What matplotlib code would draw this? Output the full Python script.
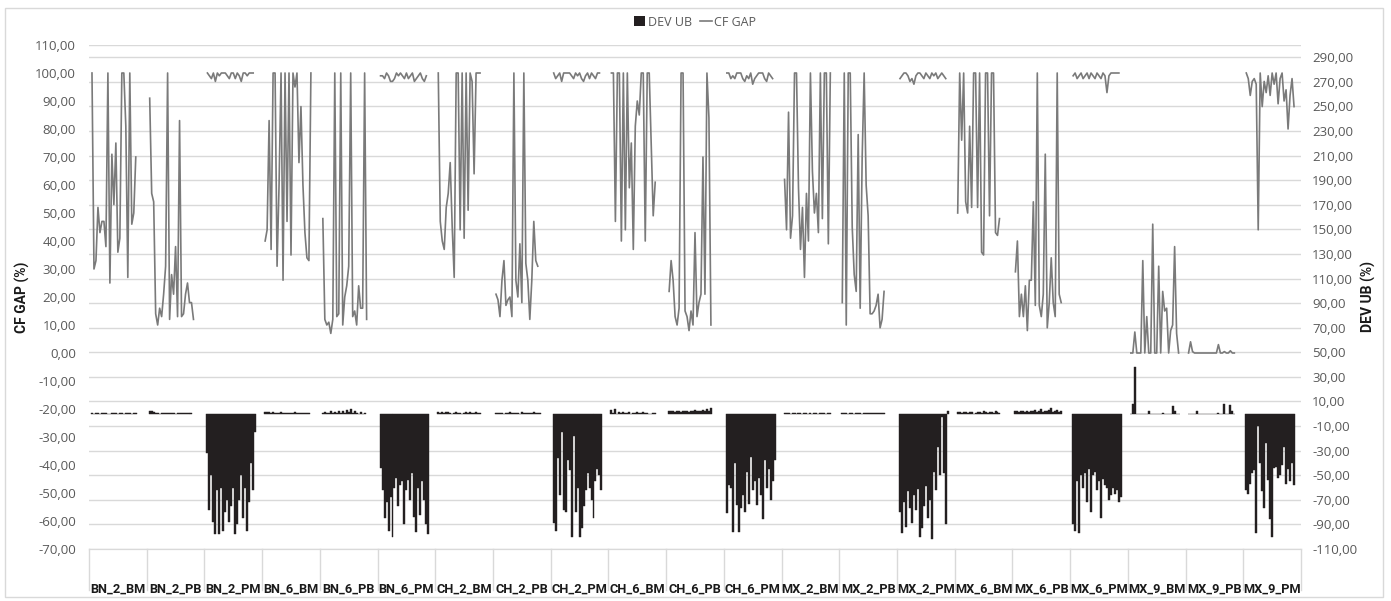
import numpy as np
import matplotlib.pyplot as plt
from matplotlib.ticker import FuncFormatter
from matplotlib.patches import Patch, Rectangle
from matplotlib.lines import Line2D

plt.rcParams['font.family'] = ['Open Sans', 'DejaVu Sans']
BOLD_FONT = ['Roboto', 'DejaVu Sans']

categories = ["BN_2_BM", "BN_2_PB", "BN_2_PM", "BN_6_BM", "BN_6_PB", "BN_6_PM",
              "CH_2_BM", "CH_2_PB", "CH_2_PM", "CH_6_BM", "CH_6_PB", "CH_6_PM",
              "MX_2_BM", "MX_2_PB", "MX_2_PM", "MX_6_BM", "MX_6_PB", "MX_6_PM",
              "MX_9_BM", "MX_9_PB", "MX_9_PM"]

# CF GAP (%) - left axis, one list per category (None = no value)
cf_bn_2_bm = [100, 30, 33, 52, 43, 47, 47, 38, 100, 25, 71, 53, 75, 36, 41, 100, 100, 81, 27, 100, 46, 50, 70]
cf_bn_2_pb = [91, 57, 54, 14, 10, 16, 13, 21, 31, 100, 12, 28, 21, 38, 13, 83, 13, 14, 21, 25, 18, 18, 12]
cf_bn_2_pm = [100, 99, 98, 100, 97, 100, 99, 100, 100, 100, 99, 98, 100, 100, 98, 100, 99, 97, 100, 100, 99, 100, 100, 100]
cf_bn_6_bm = [40, 44, 83, 37, 100, 100, 31, 60, 100, 26, 100, 47, 100, 35, 100, 95, 100, 68, 88, 60, 43, 34, 33, 100]
cf_bn_6_pb = [48, 12, 10, 11, 7, 12, 100, 13, 14, 100, 10, 20, 24, 31, 100, 13, 15, 10, 24, 16, 16, 100, 12]
cf_bn_6_pm = [99, 99, 98, 100, 99, 97, 97, 98, 100, 99, 100, 99, 98, 100, 98, 99, 100, 97, 98, 99, 100, 98, 97, 99]
cf_ch_2_bm = [100, 47, 40, 37, 52, 57, 68, 45, 27, 100, 100, 44, 100, 41, 100, 51, 100, 97, 64, 100, 100, 100]
cf_ch_2_pb = [21, 19, 13, 26, 33, 17, 19, 20, 13, 100, 26, 20, 39, 18, 100, 32, 26, 12, 26, 47, 33, 31]
cf_ch_2_pm = [100, 98, 99, 100, 97, 100, 100, 100, 100, 99, 98, 100, 99, 100, 98, 97, 99, 100, 98, 100, 99, 98, 100, 100]
cf_ch_6_bm = [100, 100, 47, 100, 100, 40, 100, 44, 100, 59, 75, 37, 81, 90, 85, 100, 100, 40, 100, 100, 75, 49, 61]
cf_ch_6_pb = [22, 33, 26, 13, 10, 16, 100, 100, 15, 13, 8, 15, 10, 43, 13, 18, 21, 70, 21, 100, 84, 10]
cf_ch_6_pm = [100, 100, 98, 99, 98, 100, 100, 100, 98, 97, 99, 98, 100, 96, 98, 99, 100, 100, 100, 98, 97, 100, 99, 98]
cf_mx_2_bm = [62, 44, 86, 41, 49, 100, 100, 59, 37, 52, 27, 57, 40, 100, 65, 50, 57, 43, 100, 48, 100, 100, 39, 100]
cf_mx_2_pb = [18, 100, 10, 100, 100, 45, 28, 22, 78, 16, 70, 100, 60, 49, 14, 14, 15, 17, 21, 9, 12, 22]
cf_mx_2_pm = [98, 99, 100, 100, 99, 97, 98, 96, 99, 100, 100, 99, 98, 100, 99, 98, 100, 99, 100, 98, 99, 100, 99, 98]
cf_mx_6_bm = [50, 100, 76, 100, 54, 50, 81, 52, 100, 100, 52, 100, 36, 35, 100, 100, 49, 100, 100, 43, 42, 48]
cf_mx_6_pb = [29, 40, 13, 21, 13, 24, 8, 26, 26, 54, 17, 100, 17, 13, 21, 71, 9, 18, 34, 18, 13, 100, 21, 18]
cf_mx_6_pm = [99, 100, 98, 99, 100, 98, 99, 100, 98, 100, 99, 98, 100, 99, 98, 100, 99, 93, 99, 100, 100, 100, 100, 100]
cf_mx_9_bm = [0, 0, 7.5, 0, 0, 0, 33, 0, 13, 0, 0, 46, 0, 0, 31, 0, 22, 15, 16, 0, 8, 10, 38, 7, 0]
cf_mx_9_pb = [0, 4, 0.5, 0, 0, 0, 0, 0, 0, 0, 0, 0, 0, 0, 0, 3, 0, 0, 0.5, 0, 0, 0.8, 0, 0]
cf_mx_9_pm = [100, 98, 92, 97, 98, 96, 44, 100, 88, 97, 93, 99, 92, 100, 96, 100, 89, 98, 100, 90, 94, 80, 92, 98, 88]

# DEV UB (%) - right axis, one list per category
dev_bn_2_bm = [1, 0, 1, 1, 0, 1, 1, 1, 0, 0, 1, 1, 1, 0, 1, 1, 0, 1, 1, 1, 0, 1, 1]
dev_bn_2_pb = [2, 2, 1.5, 1, 1, 0, 1, 1, 1, 1, 1, 1, 1, 0, 1, 1, 1, 1, 1, 1, 1, 1]
dev_bn_2_pm = [-32, -78, -50, -88, -98, -62, -98, -60, -95, -80, -70, -88, -75, -60, -98, -90, -70, -50, -85, -60, -95, -72, -40, -62, -15]
dev_bn_6_bm = [1.5, 1.5, 1.5, 1, 1.5, 1, 1, 1, 1.5, 1, 1, 1, 1, 1, 1, 1.5, 1, 1, 1, 0.5, 1, 1, 0.5]
dev_bn_6_pb = [1, 1.5, 1, 1, 2, 1, 1.5, 1, 2.5, 1, 2, 1, 3, 1.5, 4, 1, 2, 1, 0, 1.5, 0, 1]
dev_bn_6_pm = [-44, -62, -85, -72, -95, -68, -100, -60, -52, -75, -58, -55, -90, -62, -54, -70, -48, -84, -96, -60, -82, -55, -70, -90, -98]
dev_ch_2_bm = [1.5, 1, 1.5, 1, 1.5, 1.5, 1, 0, 1, 1.5, 1, 1, 0, 1, 1.5, 1, 1.5, 1, 1, 1.5, 1, 1]
dev_ch_2_pb = [1, 1, 1, 1, 0, 1, 1, 1.5, 1, 1, 1, 1, 0, 1.5, 1, 1, 1, 1, 1, 1.5, 1, 1, 1]
dev_ch_2_pm = [-89, -95, -36, -66, -15, -78, -80, -38, -46, -100, -18, -80, -60, -100, -93, -75, -62, -48, -60, -70, -85, -55, -45, -50, -62]
dev_ch_6_bm = [3, 1, 4, 0, 1.5, 1, 1.5, 1, 1, 1.5, 0, 1, 1, 1.5, 1, 1, 1.5, 1, 1, 0, 0, 1, 1]
dev_ch_6_pb = [2, 2, 2, 1.5, 2, 2, 1.5, 2, 2.5, 2, 1.5, 2, 2, 3, 2, 2.5, 2, 3, 2, 4, 2, 5]
dev_ch_6_pm = [-81, -58, -60, -96, -40, -74, -96, -77, -66, -80, -47, -73, -35, -62, -55, -74, -52, -66, -86, -38, -60, -45, -70, -55, -38]
dev_mx_2_bm = [1, 1, 1, 0, 1, 1, 0, 1, 1, 0, 0.5, 1, 0, 0.5, 0, 1, 1, 0, 1, 1, 1, 0, 1, 1]
dev_mx_2_pb = [1, 1, 1, 0, 1, 1, 0, 1, 1, 1, 0, 1, 1, 1, 1, 1, 1, 1, 1, 1, 1, 1]
dev_mx_2_pm = [-80, -97, -72, -92, -63, -77, -89, -66, -78, -61, -100, -93, -75, -59, -85, -70, -102, -47, -62, -27, -50, -3, -48, -90, 2]
dev_mx_6_bm = [1.5, 1.5, 1, 1.5, 1.5, 1, 1.5, 1.5, 0, 1, 1.5, 1.5, 1, 2, 1.5, 1, 1.5, 1.5, 1, 2, 1.5, 1]
dev_mx_6_pb = [2, 2, 1.5, 2, 2, 1.5, 2, 1.5, 2, 2, 3, 1.5, 2, 4, 1.5, 2, 2, 3, 5, 1.5, 2, 3, 1.5, 2]
dev_mx_6_pm = [-90, -95, -55, -97, -50, -60, -48, -72, -45, -80, -50, -47, -62, -55, -85, -53, -58, -60, -70, -66, -60, -65, -62, -72, -68]
dev_mx_9_bm = [0, 8, 38, 0, 0, 0, 0, 0, 0, 2, 0, 0, 0, 0, 0, 0, 1, 0, 0, 0, 0, 6, 2, 0, 0]
dev_mx_9_pb = [0, 0, 0, 0, 2, 0, 0, 0, 0, 0, 0, 0, 0, 0, 0, 1, 0, 0, 8, 0, 0, 7, 2, 0]
dev_mx_9_pm = [-62, -65, -57, -48, -46, -97, -10, -40, -63, -77, -24, -54, -86, -100, -44, -43, -52, -50, -42, -27, -57, -45, -55, -40, -58]

cf_groups = [cf_bn_2_bm, cf_bn_2_pb, cf_bn_2_pm, cf_bn_6_bm, cf_bn_6_pb, cf_bn_6_pm,
             cf_ch_2_bm, cf_ch_2_pb, cf_ch_2_pm, cf_ch_6_bm, cf_ch_6_pb, cf_ch_6_pm,
             cf_mx_2_bm, cf_mx_2_pb, cf_mx_2_pm, cf_mx_6_bm, cf_mx_6_pb, cf_mx_6_pm,
             cf_mx_9_bm, cf_mx_9_pb, cf_mx_9_pm]
dev_groups = [dev_bn_2_bm, dev_bn_2_pb, dev_bn_2_pm, dev_bn_6_bm, dev_bn_6_pb, dev_bn_6_pm,
              dev_ch_2_bm, dev_ch_2_pb, dev_ch_2_pm, dev_ch_6_bm, dev_ch_6_pb, dev_ch_6_pm,
              dev_mx_2_bm, dev_mx_2_pb, dev_mx_2_pm, dev_mx_6_bm, dev_mx_6_pb, dev_mx_6_pm,
              dev_mx_9_bm, dev_mx_9_pb, dev_mx_9_pm]

# each category holds 29 slots on the axis, data fills the first ones
SLOTS = 29
n = len(categories) * SLOTS
cf = np.full(n, np.nan)
dev = np.full(n, np.nan)
for g, (c, d) in enumerate(zip(cf_groups, dev_groups)):
    s = g * SLOTS + 1
    cf[s:s + len(c)] = [np.nan if v is None else v for v in c]
    dev[s:s + len(d)] = d
x = np.arange(n) + 0.5

line_col = '#7a7a7a'
bar_col = '#231f20'
grid_col = '#d9d9d9'
txt_col = '#595959'
lab_col = '#1a1a1a'

fig = plt.figure(figsize=(13.91, 6.01), dpi=100)
ax1 = fig.add_axes([89 / 1391, 1 - 549 / 601, 1212 / 1391, 504 / 601])
ax2 = ax1.twinx()
ax1.set_zorder(ax2.get_zorder() + 1)
ax1.patch.set_visible(False)

# bars on the secondary (right) axis
m = ~np.isnan(dev)
ax2.bar(x[m], dev[m], width=1.0, color=bar_col, edgecolor=bar_col, linewidth=0.3)
ax2.set_ylim(-110, 300)
ax2.set_yticks(np.arange(-110, 291, 20))
ax2.grid(axis='y', color=grid_col, linewidth=1)
ax2.axhline(300, color=grid_col, linewidth=1)
ax2.set_axisbelow(True)

# line on the primary (left) axis
ax1.plot(x, cf, color=line_col, linewidth=1.2)
ax1.set_ylim(-70, 110)
ax1.set_yticks(np.arange(-70, 111, 10))
ax1.set_xlim(0, n)
ax1.set_xticks([])

fmt = FuncFormatter(lambda v, p: f"{v:.2f}".replace('.', ','))
ax1.yaxis.set_major_formatter(fmt)
ax2.yaxis.set_major_formatter(fmt)
ax1.tick_params(axis='y', length=0, pad=9.5, labelsize=9.5, labelcolor=txt_col)
ax2.tick_params(axis='y', length=0, pad=8, labelsize=9.5, labelcolor=txt_col)

for a in (ax1, ax2):
    for sp in ['top', 'left', 'right']:
        a.spines[sp].set_visible(False)
    a.spines['bottom'].set_color(grid_col)

# category separators and labels under the plot
for g in range(len(categories) + 1):
    ax1.plot([g * SLOTS, g * SLOTS], [0, -41 / 504], transform=ax1.get_xaxis_transform(),
             color=grid_col, linewidth=1, clip_on=False)
for g, name in enumerate(categories):
    ax1.text((g + 0.5) * SLOTS, -40 / 504, name, transform=ax1.get_xaxis_transform(),
             ha='center', va='center', fontsize=9.2, fontweight='bold', color=lab_col,
             family=BOLD_FONT)

fig.text(22 / 1391, 1 - 297 / 601, 'CF GAP (%)', rotation=90, ha='center', va='center',
         fontsize=10, fontweight='bold', color=lab_col, family=BOLD_FONT)
fig.text(1368 / 1391, 1 - 297 / 601, 'DEV UB (%)', rotation=90, ha='center', va='center',
         fontsize=10, fontweight='bold', color=lab_col, family=BOLD_FONT)

handles = [Patch(facecolor=bar_col, edgecolor='none'), Line2D([], [], color=line_col, linewidth=1.2)]
fig.legend(handles, ['DEV UB', 'CF GAP'], loc='center', bbox_to_anchor=(695 / 1391, 1 - 22 / 601),
           ncol=2, frameon=False, fontsize=9, handlelength=0.9, handleheight=0.8,
           handletextpad=0.2, columnspacing=0.7, labelcolor=txt_col)

fig.add_artist(Rectangle((5 / 1391, 1 - 597 / 601), 1378 / 1391, 589 / 601, fill=False,
                         edgecolor=grid_col, linewidth=1, transform=fig.transFigure))

fig.savefig('out.png', dpi=100)
